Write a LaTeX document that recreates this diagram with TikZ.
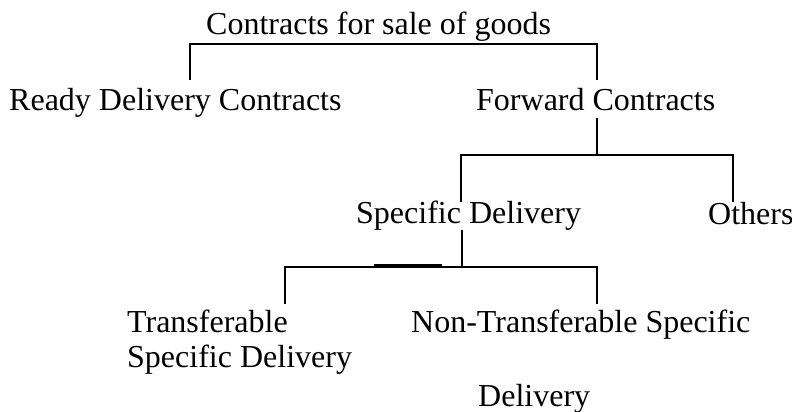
\documentclass[tikz,border=0pt]{standalone}
\usepackage{fontspec}
\setmainfont{Liberation Serif}

\begin{document}
\begin{tikzpicture}[x=0.375pt, y=-0.375pt, line width=0.9pt,
    item/.style={anchor=base west, inner sep=0pt, font=\fontsize{12}{14}\selectfont}]
  \useasboundingbox (0,0) rectangle (792,412);

  % labels, placed by left edge and baseline
  \node[item] (goods)   at (205,35)  {Contracts for sale of goods};
  \node[item] (ready)   at (8,111)   {Ready Delivery Contracts};
  \node[item] (forward) at (475,111) {Forward Contracts};
  \node[item] (specific) at (355,224) {Specific Delivery};
  \node[item] (others)  at (707,225) {Others};
  \node[item] (transf)  at (126,333) {Transferable};
  \node[item] (transf2) at (126,368) {Specific Delivery};
  \node[item] (nontransf) at (410,333) {Non-Transferable Specific};
  \node[item] (nontransf2) at (477,407) {Delivery};

  % line ends and bar joints
  \coordinate (jA) at (400,44);
  \coordinate (readyTop) at (190,80);
  \coordinate (fwdTop) at (597,80);
  \coordinate (fwdStem) at (597,118);
  \coordinate (jB) at (597,155);
  \coordinate (specTop) at (461,202);
  \coordinate (othTop) at (733,202);
  \coordinate (specStem) at (462,230);
  \coordinate (jC) at (462,267);
  \coordinate (trTop) at (285,304);
  \coordinate (ntTop) at (597,304);

  % first split
  \draw (readyTop) |- (jA) -| (fwdTop);
  % forward contracts
  \draw (fwdStem) -- (jB);
  \draw (specTop) |- (jB) -| (othTop);
  % specific delivery
  \draw (specStem) -- (jC);
  \draw (trTop) |- (jC) -| (ntTop);
  \draw (374,265.6) -- (442,265.6);
\end{tikzpicture}
\end{document}
